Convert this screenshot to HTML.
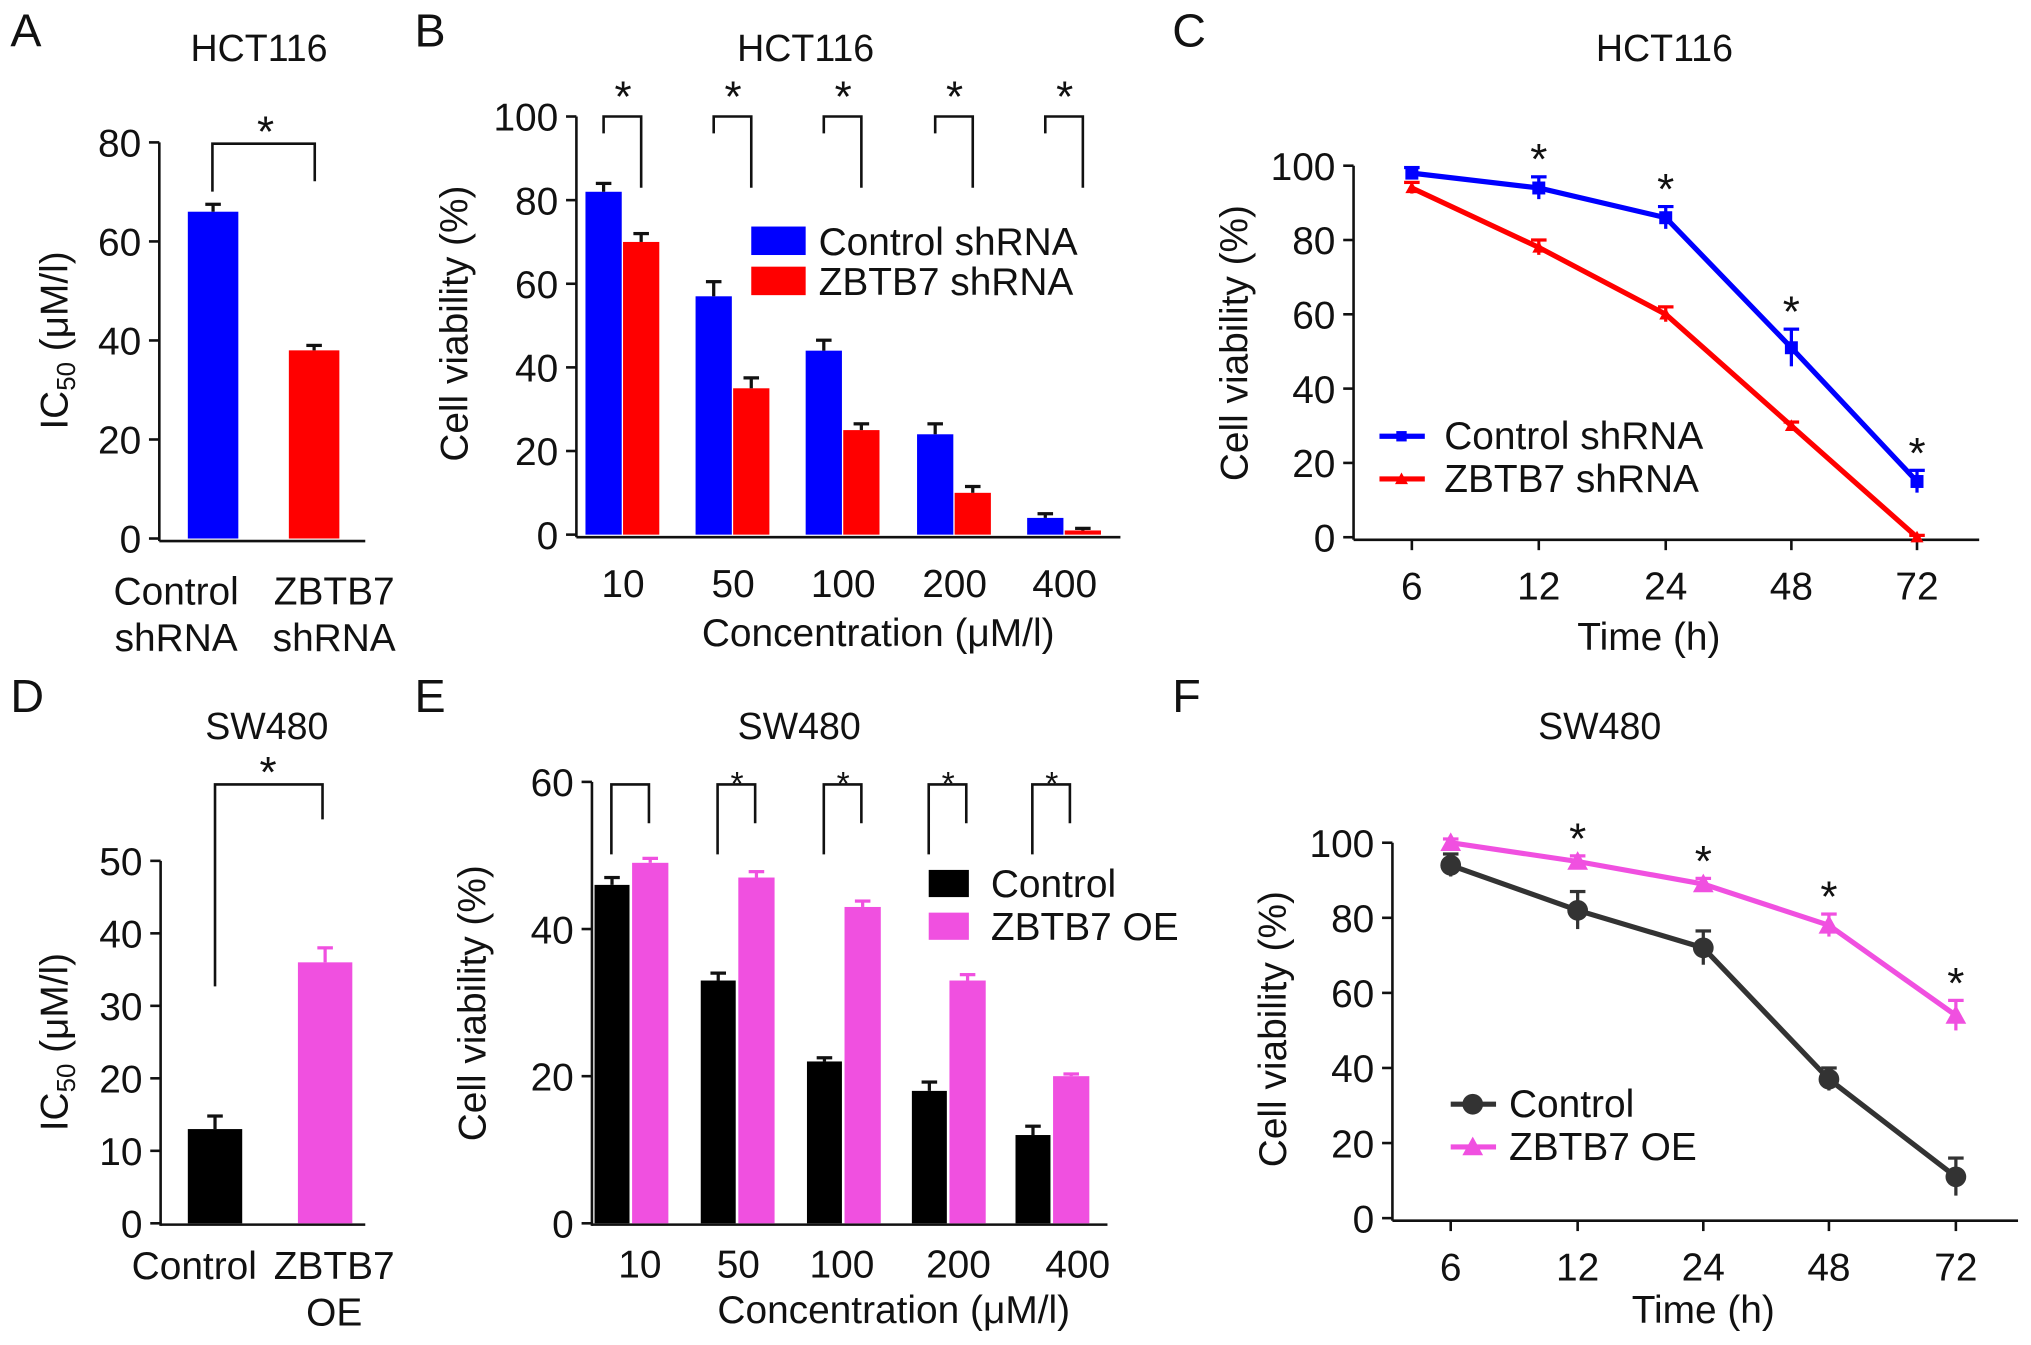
<!DOCTYPE html>
<html><head><meta charset="utf-8"><style>
html,body{margin:0;padding:0;background:#fff;}
svg{display:block;font-family:"Liberation Sans",Arial,sans-serif;}
</style></head><body>
<svg id="fig" width="2031" height="1345" viewBox="0 0 1568 1039" preserveAspectRatio="none" xmlns="http://www.w3.org/2000/svg"></svg>
<script>
// ---- data ----
const aCats = ["Control shRNA","ZBTB7 shRNA"];
const aVals = [66, 38];
const aErr = [1.5, 1];
const bCats = ["10","50","100","200","400"];
const bControl = [82, 57, 44, 24, 4];
const bZbtb = [70, 35, 25, 10, 1];
const bControlErr = [2, 3.5, 2.5, 2.5, 1];
const bZbtbErr = [2, 2.5, 1.5, 1.5, 0.5];
const cTimes = ["6","12","24","48","72"];
const cControl = [98, 94, 86, 51, 15];
const cZbtb = [94, 78, 60, 30, 0];
const cControlErr = [1.5, 3, 3, 5, 3];
const cZbtbErr = [1.5, 2, 2, 1, 0.5];
const dCats = ["Control","ZBTB7 OE"];
const dVals = [13, 36];
const dErr = [1.8, 2];
const eCats = ["10","50","100","200","400"];
const eControl = [46, 33, 22, 18, 12];
const eOE = [49, 47, 43, 33, 20];
const eControlErr = [1, 1, 0.5, 1.2, 1.2];
const eOEErr = [0.6, 0.8, 0.8, 0.8, 0.3];
const fTimes = ["6","12","24","48","72"];
const fControl = [94, 82, 72, 37, 11];
const fOE = [100, 95, 89, 78, 54];
const fControlErr = [3, 5, 4.5, 3, 5];
const fOEErr = [1, 1.5, 1.5, 3, 4];

const FS = 30, TS = 29, SS = 34;
const svg = document.getElementById('fig');
const NS = 'http://www.w3.org/2000/svg';
function el(tag, attrs, parent){
  const e = document.createElementNS(NS, tag);
  for (const k in attrs) e.setAttribute(k, attrs[k]);
  (parent||svg).appendChild(e); return e;
}
function txt(x,y,s,size,anchor,name,extra){
  const t = el('text',{x:x,y:y,'font-size':size,'text-anchor':anchor||'middle',fill:'#111'});
  t.textContent = s;
  
  
  if (extra) for (const k in extra) t.setAttribute(k, extra[k]);
  return t;
}
function line(x1,y1,x2,y2,color,w,name){
  const l = el('line',{x1:x1,y1:y1,x2:x2,y2:y2,stroke:color||'#111','stroke-width':w||2});
  
  
  return l;
}
function yAxis(x, y0, y1, vmax, ticks, name){
  const sc = v => y0 - (y0-y1)*v/vmax;
  line(x, y0+2, x, y1, '#111', 2, name+'-y-axis');
  ticks.forEach(t=>{
    line(x-8, sc(t), x, sc(t), '#111', 2, name+'-y-tick');
    txt(x-14, sc(t)+11, String(t), FS, 'end', name+'-y-tick-label');
  });
  return sc;
}
function errbar(x,yTop,yErr,color,name){
  line(x, yTop, x, yErr, color, 2.5, name+'-error');
  line(x-6, yErr, x+6, yErr, color, 2.5, name+'-error-cap');
}
function bar(x,w,sc,v,e,color,name){
  const r = el('rect',{x:x,y:sc(v),width:w,height:sc(0)-sc(v),fill:color});
  
  
  errbar(x+w/2, sc(v), sc(v+e), color==='#f050e0'?color:'#111', name);
}
function letter(x,y,s){ txt(x,y,s,36,'start','panel-label-'+s); }
function icTitle(x,y,name){
  const t=el('text',{x:x,y:y,'font-size':FS,'text-anchor':'middle',fill:'#111',transform:`rotate(-90 ${x} ${y})`});
   
  t.innerHTML='IC<tspan font-size="20" dy="6">50</tspan><tspan dy="-6"> (μM/l)</tspan>';
}

// ---- Panel A ----
letter(8,36,'A'); txt(200,47,'HCT116',TS,'middle','panel-a-title');
{
  const sc = yAxis(123, 416, 110, 80, [0,20,40,60,80], 'panel-a');
  line(123,418,282,418,'#111',2,'panel-a-x-axis');
  const xs=[145,223], cols=['#00f','#f00'];
  aVals.forEach((v,i)=>bar(xs[i],39,sc,v,aErr[i],cols[i],'panel-a-bar-'+i));
  txt(136,467,'Control',FS,'middle','panel-a-x-label'); txt(136,503,'shRNA',FS,'middle','panel-a-x-label');
  txt(258,467,'ZBTB7',FS,'middle','panel-a-x-label'); txt(258,503,'shRNA',FS,'middle','panel-a-x-label');
  const p = el('path',{d:'M164 148 V111 H243 V140',fill:'none',stroke:'#111','stroke-width':2});
   
  txt(205,113,'*',SS,'middle','panel-a-star');
  icTitle(52,263,'panel-a-y-title');
}

// ---- Panel B ----
letter(320,36,'B'); txt(622,47,'HCT116',TS,'middle','panel-b-title');
{
  const sc = yAxis(445, 413, 90, 100, [0,20,40,60,80,100], 'panel-b');
  line(445,415,865,415,'#111',2,'panel-b-x-axis');
  const centers=[481,566,651,737,822];
  bCats.forEach((c,i)=>{
    bar(centers[i]-29,28,sc,bControl[i],bControlErr[i],'#00f','panel-b-bar-control-'+c);
    bar(centers[i],28,sc,bZbtb[i],bZbtbErr[i],'#f00','panel-b-bar-zbtb7-'+c);
    txt(centers[i],461,c,FS,'middle','panel-b-x-tick-label');
    const p=el('path',{d:`M${centers[i]-15} 103 V90 H${centers[i]+14} V145`,fill:'none',stroke:'#111','stroke-width':2});
     
    txt(centers[i],86,'*',SS,'middle','panel-b-star');
  });
  txt(678,499,'Concentration (μM/l)',FS,'middle','panel-b-x-title');
  txt(361,250,'Cell viability (%)',FS,'middle','panel-b-y-title',{transform:'rotate(-90 361 250)'});
  let r=el('rect',{x:580,y:175,width:42,height:22,fill:'#00f'});  
  txt(632,197,'Control shRNA',FS,'start','legend-entry-control-shrna');
  r=el('rect',{x:580,y:206,width:42,height:22,fill:'#f00'});  
  txt(632,228,'ZBTB7 shRNA',FS,'start','legend-entry-zbtb7-shrna');
}

function mark(x,y,type,color,r,name){
  let m;
  if(type==='circle') m=el('circle',{cx:x,cy:y,r:r,fill:color});
  else if(type==='square') m=el('rect',{x:x-r,y:y-r,width:2*r,height:2*r,fill:color});
  else m=el('polygon',{points:`${x},${y-r} ${x-r},${y+r*0.8} ${x+r},${y+r*0.8}`,fill:color});
   
}
function linePanel(opt){
  const sc = yAxis(opt.ax, opt.y0, opt.y1, 100, [0,20,40,60,80,100], opt.name);
  line(opt.ax, opt.y0+2, opt.ax+483, opt.y0+2, '#111', 2, opt.name+'-x-axis');
  opt.cats.forEach((c,i)=>{
    line(opt.xs[i], opt.y0+2, opt.xs[i], opt.y0+10, '#111', 2, opt.name+'-x-tick');
    txt(opt.xs[i], opt.y0+48, c, FS, 'middle', opt.name+'-x-tick-label');
  });
  opt.series.forEach(s=>{
    const pl=el('polyline',{points:s.vals.map((v,i)=>opt.xs[i]+','+sc(v)).join(' '),fill:'none',stroke:s.color,'stroke-width':4});
     
    s.vals.forEach((v,i)=>{
      errbar(opt.xs[i], sc(v-s.err[i]), sc(v+s.err[i]), s.color, s.name);
      mark(opt.xs[i], sc(v), s.marker, s.color, s.ms, s.name+'-point');
    });
  });
  opt.stars.forEach(i=>{
    const s=opt.series[opt.starSeries];
    txt(opt.xs[i], sc(s.vals[i]+s.err[i])-2, '*', SS, 'middle', opt.name+'-star');
  });
}

// ---- Panel C ----
letter(905,36,'C'); txt(1285,47,'HCT116',TS,'middle','panel-c-title');
linePanel({name:'panel-c', ax:1045, y0:415, y1:128, cats:cTimes, xs:[1090,1188,1286,1383,1480],
  series:[{name:'control-shrna',vals:cControl,err:cControlErr,color:'#00f',marker:'square',ms:5},
          {name:'zbtb7-shrna',vals:cZbtb,err:cZbtbErr,color:'#f00',marker:'triangle',ms:5}],
  stars:[1,2,3,4], starSeries:0});
txt(1273,502,'Time (h)',FS,'middle','panel-c-x-title');
txt(963,265,'Cell viability (%)',FS,'middle','panel-c-y-title',{transform:'rotate(-90 963 265)'});
line(1065,337,1100,337,'#00f',4,'legend-line-control'); mark(1082,337,'square','#00f',4,'legend-marker-control');
txt(1115,347,'Control shRNA',FS,'start','legend-entry-control-shrna');
line(1065,370,1100,370,'#f00',4,'legend-line-zbtb7'); mark(1082,370,'triangle','#f00',5,'legend-marker-zbtb7');
txt(1115,380,'ZBTB7 shRNA',FS,'start','legend-entry-zbtb7-shrna');

// ---- Panel D ----
letter(8,550,'D'); txt(206,571,'SW480',TS,'middle','panel-d-title');
{
  const sc = yAxis(124, 945, 665, 50, [0,10,20,30,40,50], 'panel-d');
  line(124,946,282,946,'#111',2,'panel-d-x-axis');
  const xs=[145,230], cols=['#000','#f050e0'];
  dVals.forEach((v,i)=>bar(xs[i],42,sc,v,dErr[i],cols[i],'panel-d-bar-'+i));
  txt(150,988,'Control',FS,'middle','panel-d-x-label');
  txt(258,988,'ZBTB7',FS,'middle','panel-d-x-label'); txt(258,1024,'OE',FS,'middle','panel-d-x-label');
  const p=el('path',{d:'M166 762 V606 H249 V633',fill:'none',stroke:'#111','stroke-width':2});
   
  txt(207,608,'*',SS,'middle','panel-d-star');
  icTitle(52,805,'panel-d-y-title');
}

// ---- Panel E ----
letter(320,550,'E'); txt(617,571,'SW480',TS,'middle','panel-e-title');
{
  const sc = yAxis(457, 945, 604, 60, [0,20,40,60], 'panel-e');
  line(457,946,855,946,'#111',2,'panel-e-x-axis');
  const centers=[487,569,651,732,812], labs=[494,570,650,740,832];
  eCats.forEach((c,i)=>{
    bar(centers[i]-28,27,sc,eControl[i],eControlErr[i],'#000','panel-e-bar-control-'+c);
    bar(centers[i]+1,28,sc,eOE[i],eOEErr[i],'#f050e0','panel-e-bar-oe-'+c);
    txt(labs[i],987,c,FS,'middle','panel-e-x-tick-label');
    const p=el('path',{d:`M${centers[i]-15} 660 V606 H${centers[i]+14} V636`,fill:'none',stroke:'#111','stroke-width':2});
     
    if(i>0) txt(centers[i],614,'*',26,'middle','panel-e-star');
  });
  txt(690,1022,'Concentration (μM/l)',FS,'middle','panel-e-x-title');
  txt(375,775,'Cell viability (%)',FS,'middle','panel-e-y-title',{transform:'rotate(-90 375 775)'});
  let r=el('rect',{x:717,y:672,width:31,height:21,fill:'#000'});  
  txt(765,693,'Control',FS,'start','legend-entry-control');
  r=el('rect',{x:717,y:705,width:31,height:21,fill:'#f050e0'});  
  txt(765,726,'ZBTB7 OE',FS,'start','legend-entry-zbtb7-oe');
}

// ---- Panel F ----
letter(905,550,'F'); txt(1235,571,'SW480',TS,'middle','panel-f-title');
linePanel({name:'panel-f', ax:1075, y0:941, y1:651, cats:fTimes, xs:[1120,1218,1315,1412,1510],
  series:[{name:'control',vals:fControl,err:fControlErr,color:'#333',marker:'circle',ms:8},
          {name:'zbtb7-oe',vals:fOE,err:fOEErr,color:'#f050e0',marker:'triangle',ms:8}],
  stars:[1,2,3,4], starSeries:1});
txt(1315,1022,'Time (h)',FS,'middle','panel-f-x-title');
txt(993,795,'Cell viability (%)',FS,'middle','panel-f-y-title',{transform:'rotate(-90 993 795)'});
line(1120,853,1155,853,'#333',4,'legend-line-control'); mark(1137,853,'circle','#333',8,'legend-marker-control');
txt(1165,863,'Control',FS,'start','legend-entry-control');
line(1120,886,1155,886,'#f050e0',4,'legend-line-oe'); mark(1137,886,'triangle','#f050e0',8,'legend-marker-oe');
txt(1165,896,'ZBTB7 OE',FS,'start','legend-entry-zbtb7-oe');
</script>
</body></html>
